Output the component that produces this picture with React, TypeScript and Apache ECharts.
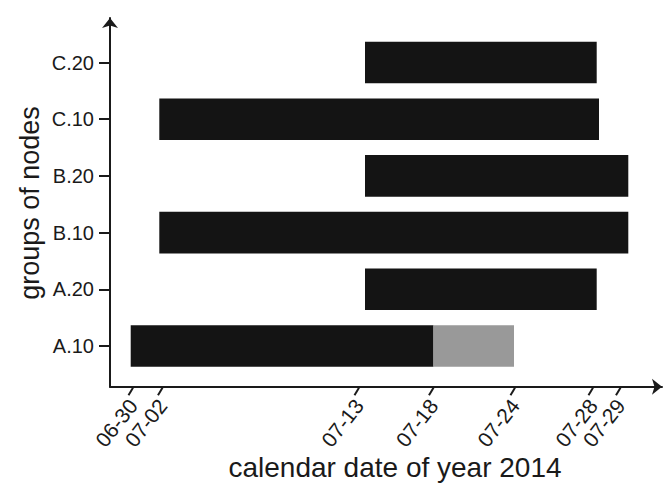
import React, { useEffect, useRef } from "react";
import * as echarts from "echarts";

// Node groups, bottom to top
const categories = ["A.10", "A.20", "B.10", "B.20", "C.10", "C.20"];

// Position of each date along the (non-uniform) time axis
const tickDates = ["06-30", "07-02", "07-13", "07-18", "07-24", "07-28", "07-29"];
const tickAt = [23, 52.5, 249, 323.5, 405, 483, 510.5];

// Active span of each group on the same axis
const spanStart = [20.7, 255, 49.3, 255, 49.3, 255];
const spanEnd = [323.5, 486.7, 518.3, 518.3, 489, 486.7];

// Extra (grey) span that only A.10 has
const extraGroup = ["A.10"];
const extraStart = [323.5];
const extraEnd = [404];

const AXIS_MAX = 552;
const FONT = "'Liberation Sans', Arial, Helvetica, sans-serif";
const INK = "#1a1a1a";

export default function App() {
  const ref = useRef<HTMLDivElement>(null);

  useEffect(() => {
    if (!ref.current) return;
    const chart = echarts.init(ref.current, null, { renderer: "svg" });

    const mainSpans = categories.map((c, i) => [i, spanStart[i], spanEnd[i]]);
    const extraSpans = extraGroup.map((c, i) => [categories.indexOf(c), extraStart[i], extraEnd[i]]);

    const spanRenderer = (color: string) => (params: any, api: any) => {
      const cat = api.value(0);
      const a = api.coord([api.value(1), cat]);
      const b = api.coord([api.value(2), cat]);
      const h = api.size([0, 1])[1] * 0.735;
      return {
        type: "rect",
        shape: { x: a[0], y: a[1] - h / 2, width: b[0] - a[0], height: h },
        style: { fill: color },
      };
    };

    chart.setOption({
      animation: false,
      backgroundColor: "#ffffff",
      grid: [
        // frame with the arrowed axes and date ticks
        { left: 110, right: 6, top: 18, bottom: 103.3, containLabel: false },
        // bars and group labels
        { left: 110, right: 6, top: 34.2, bottom: 115.7, containLabel: false },
      ],
      xAxis: [
        {
          gridIndex: 0,
          type: "value",
          min: 0,
          max: AXIS_MAX,
          splitLine: { show: false },
          axisLine: {
            show: true,
            lineStyle: { color: INK, width: 2 },
            symbol: ["none", "arrow"],
            symbolSize: [12, 10],
          },
          axisTick: { show: false },
          axisLabel: {
            show: true,
            customValues: tickAt,
            formatter: (v: number) => {
              const i = tickAt.indexOf(v);
              return i >= 0 ? tickDates[i] : "";
            },
            rotate: 52,
            margin: 15,
            fontSize: 21,
            fontFamily: FONT,
            color: INK,
          },
        },
        {
          gridIndex: 1,
          type: "value",
          min: 0,
          max: AXIS_MAX,
          show: false,
        },
      ],
      yAxis: [
        {
          gridIndex: 0,
          type: "value",
          min: 0,
          max: 1,
          splitLine: { show: false },
          axisLabel: { show: false },
          axisTick: { show: false },
          axisLine: {
            show: true,
            lineStyle: { color: INK, width: 2 },
            symbol: ["none", "arrow"],
            symbolSize: [12, 10],
          },
        },
        {
          gridIndex: 1,
          type: "category",
          data: categories,
          axisLine: { show: false },
          axisTick: {
            show: true,
            alignWithLabel: true,
            length: 11,
            lineStyle: { color: INK, width: 2 },
          },
          axisLabel: {
            margin: 16,
            fontSize: 20,
            fontFamily: FONT,
            color: INK,
          },
          splitLine: { show: false },
        },
      ],
      graphic: [
        {
          type: "text",
          x: 30,
          y: 203,
          rotation: Math.PI / 2,
          style: {
            text: "groups of nodes",
            font: `27px ${FONT}`,
            fill: INK,
            align: "center",
            verticalAlign: "middle",
          },
        },
        {
          type: "text",
          x: 395,
          y: 467,
          style: {
            text: "calendar date of year 2014",
            font: `28px ${FONT}`,
            fill: INK,
            align: "center",
            verticalAlign: "middle",
          },
        },
      ],
      series: [
        {
          type: "custom",
          name: "active",
          xAxisIndex: 1,
          yAxisIndex: 1,
          data: mainSpans,
          renderItem: spanRenderer("#141414"),
        },
        {
          type: "custom",
          name: "extra",
          xAxisIndex: 1,
          yAxisIndex: 1,
          data: extraSpans,
          renderItem: spanRenderer("#999999"),
        },
        {
          // slanted date ticks under the time axis
          type: "custom",
          name: "ticks",
          xAxisIndex: 0,
          yAxisIndex: 0,
          data: tickAt.map((v) => [v, 0]),
          renderItem: (params: any, api: any) => {
            const p = api.coord([api.value(0), api.value(1)]);
            return {
              type: "line",
              shape: { x1: p[0], y1: p[1] + 1, x2: p[0] - 4.5, y2: p[1] + 8.5 },
              style: { stroke: INK, lineWidth: 2 },
            };
          },
        },
      ],
    });

    return () => chart.dispose();
  }, []);

  return <div ref={ref} style={{ width: 668, height: 490, position: "fixed", left: 0, top: 0 }} />;
}
